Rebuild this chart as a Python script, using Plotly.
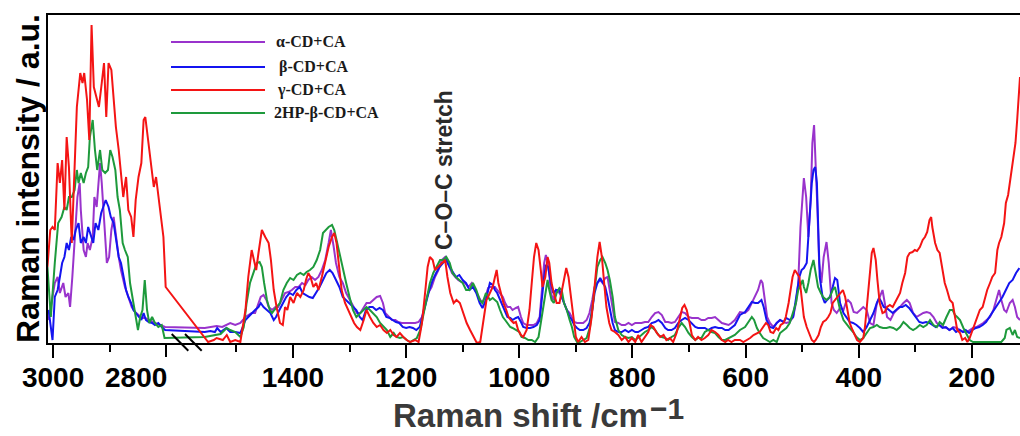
import plotly.graph_objects as go

# ---------------- data (Raman shift in cm-1, intensity in a.u.) ----------------
ALPHA_X = [3008,2997,2992,2988,2982,2978,2973,2970,2966,2961,2957,2953,2951,2946,2942,2939,2935,2930,2927,2923,2920,2917,2914,2911,2908,2905,2901,2897,2893,2889,2884,2880,2873,2867,2861,2855,2849,2843,2837,2831,2825,2820,2811,2802,
           1556,1545,1535,1525,1518,
           1511,1502,1493,1484,1479,1473,1467,1461,1457,1452,1447,1443,1437,1431,1426,1420,1414,1408,1402,1396,1390,1384,1378,1373,1367,1361,1355,1349,1343,1337,1333,1328,1324,1318,1312,1306,1299,1293,1287,1281,1275,1270,1264,1258,1252,1246,1241,1237,1231,1225,1219,1214,1208,1202,1196,1190,1184,1178,1172,1166,1161,1155,1149,1143,1137,1131,1125,1119,1113,1108,1102,1096,1090,1084,1078,1072,1066,1060,1055,
           1052,1047,1043,1039,1034,1029,1025,1021,1016,1012,1006,1002,997,993,987,981,975,969,964,960,956,953,949,944,940,935,929,925,921,916,911,907,903,898,893,887,881,876,871,867,862,857,853,848,844,840,835,831,825,819,813,807,801,795,790,784,778,772,766,760,754,748,742,737,731,725,719,713,707,701,695,689,684,678,672,666,660,654,648,642,636,630,625,619,
           610,601,595,589,583,578,573,570,566,562,557,551,545,539,533,528,522,516,511,507,503,499,497,493,489,485,482,479,477,473,470,466,462,457,453,448,444,439,433,427,423,419,414,409,403,397,392,386,380,374,368,363,358,354,350,344,338,333,327,321,315,310,304,298,292,286,280,274,268,262,257,251,245,239,233,227,221,215,209,204,198,192,186,180,174,168,162,156,152,148,143,139,133,128,124,120,115]
ALPHA_Y = [23,60,66,50,60,46,50,36,66,106,146,160,133,93,86,100,93,106,146,136,160,180,160,133,100,80,86,113,126,106,86,73,56,46,36,31,28,25,25,23,21,20,18,16,
           15,16,17,16,18,
           20,18,20,26,28,30,30,40,46,48,43,36,33,36,36,43,50,51,53,56,56,60,58,63,66,63,66,73,83,100,113,96,80,66,60,50,43,36,30,30,36,40,40,43,46,47,40,30,26,23,23,21,20,20,20,20,20,21,26,40,50,56,66,73,83,86,78,70,66,63,61,60,56,60,53,46,40,46,55,
           56,56,56,53,50,46,40,36,36,33,35,36,26,20,18,18,18,20,26,53,80,88,80,50,43,53,50,46,40,33,30,26,21,20,20,20,23,30,43,56,60,63,60,65,66,53,33,21,20,18,18,20,18,20,20,20,21,21,26,30,31,28,21,21,20,21,26,31,30,26,25,25,25,23,23,25,25,26,23,20,19,18,20,23,
           31,30,33,40,46,53,63,60,43,26,20,16,20,23,21,20,21,26,40,60,116,153,165,146,106,143,200,218,193,133,80,60,86,101,80,40,33,30,35,33,40,43,40,31,30,33,36,33,20,18,40,46,53,40,26,23,30,33,36,40,43,40,30,26,28,30,31,30,26,20,18,16,15,13,16,15,13,11,11,13,15,16,18,20,23,26,33,46,53,43,33,31,40,43,36,26,23]

BETA_X = [3008,3001,2997,2992,2988,2984,2980,2976,2972,2968,2964,2960,2955,2951,2946,2942,2938,2933,2929,2925,2920,2915,2911,2907,2902,2898,2893,2889,2884,2880,2876,2871,2867,2862,2858,2854,2849,2844,2840,2836,2831,2825,2820,2814,2808,2802,
          1556,1546,1538,1534,1528,1518,
          1511,1502,1493,1484,1479,1473,1467,1461,1457,1452,1446,1440,1434,1430,1424,1418,1412,1406,1400,1394,1388,1383,1377,1371,1365,1359,1353,1347,1341,1335,1330,1324,1318,1312,1306,1300,1294,1288,1282,1277,1271,1265,1259,1253,1247,1241,1235,1229,1224,1218,1212,1206,1200,1194,1188,1182,1176,1171,1165,1159,1153,1147,1141,1135,1129,1123,1118,1112,1106,1100,1094,1088,1082,1076,1070,1065,1059,
          1052,1047,1043,1039,1034,1029,1025,1021,1016,1012,1006,1002,997,993,987,981,975,969,964,960,956,953,949,944,940,935,929,925,921,916,911,907,903,898,893,887,881,876,871,867,862,857,853,848,844,840,835,831,825,819,813,807,801,795,790,784,778,772,766,760,754,748,742,737,731,725,719,713,707,701,695,689,684,678,672,666,660,654,648,642,636,630,625,619,
          610,601,595,589,583,578,572,568,563,557,551,545,539,533,528,522,516,510,505,501,497,492,487,483,480,477,474,472,469,464,460,456,451,446,442,438,433,427,421,416,410,404,398,392,386,380,374,368,364,360,356,351,346,340,334,328,323,317,311,305,299,293,287,281,275,270,264,258,252,246,240,234,228,222,216,211,205,199,193,187,181,175,169,164,158,152,146,140,134,128,122,116]
BETA_Y = [33,3,46,53,66,80,86,100,93,106,103,113,120,100,106,100,116,106,100,120,113,130,136,143,136,126,120,106,86,80,66,53,46,40,33,30,26,23,30,23,21,20,18,20,16,13,
          11,12,11,15,11,15,
          11,11,10,23,26,30,33,36,40,36,33,30,23,26,33,40,46,50,48,53,56,50,48,46,45,50,56,63,70,73,70,63,56,46,43,40,36,33,26,23,33,36,36,33,35,33,26,25,23,21,20,16,15,16,15,13,16,26,40,53,63,70,76,80,83,76,71,66,68,63,60,53,56,50,40,35,43,
          60,58,53,50,43,36,30,26,25,23,25,26,21,16,15,15,16,18,23,46,66,78,76,60,50,53,53,46,40,33,26,23,18,15,13,13,15,20,33,50,60,65,61,56,46,33,20,13,11,11,13,11,13,11,11,13,15,16,20,21,23,20,15,13,13,15,20,23,25,23,20,16,15,15,15,13,15,16,15,15,13,13,15,18,
          28,31,36,41,40,40,43,36,23,16,15,20,23,21,25,23,26,46,66,73,75,80,120,160,173,176,160,113,66,46,40,43,46,56,65,63,40,30,25,21,20,18,15,11,16,23,30,40,45,41,36,35,33,30,33,36,36,38,35,30,26,21,20,21,20,18,16,18,15,16,13,15,11,13,11,13,10,13,15,16,18,21,26,31,36,40,46,53,60,63,70,75]

GAMMA_X = [3010,3005,3001,2997,2992,2988,2984,2980,2976,2972,2967,2962,2958,2952,2948,2945,2940,2936,2932,2928,2923,2919,2914,2910,2906,2902,2897,2893,2889,2884,2880,2876,2871,2867,2862,2858,2854,2849,2844,2840,2837,2831,2827,2822,2818,2814,2809,2805,2801,
           1550,1540,1535,1524,1517,
           1511,1502,1493,1484,1479,1473,1469,1465,1461,1455,1449,1443,1439,1434,1429,1423,1418,1414,1410,1405,1399,1393,1387,1381,1377,1373,1369,1364,1359,1355,1349,1343,1337,1331,1327,1323,1318,1314,1308,1302,1296,1292,1287,1281,1275,1270,1264,1258,1252,1246,1240,1234,1228,1222,1217,1211,1205,1199,1193,1184,1178,1172,1166,1162,1158,1153,1149,1143,1137,1131,1127,1122,1116,1111,1105,1099,1093,1087,1081,1075,1069,1063,1058,
           1052,1047,1043,1040,1037,1033,1028,1023,1019,1015,1010,1006,1002,997,993,987,982,978,974,970,966,962,959,954,950,947,943,939,934,929,925,921,917,913,909,904,900,896,890,884,878,872,866,862,858,854,850,846,841,837,831,825,819,813,807,801,795,790,784,778,772,768,763,757,751,745,740,734,728,722,717,712,708,704,699,695,689,684,678,672,666,660,654,648,642,636,631,625,619,
           610,604,598,592,586,580,575,569,564,560,556,551,546,542,538,533,529,524,520,517,513,509,505,501,497,492,487,483,479,476,471,467,463,458,454,450,446,442,438,433,428,424,420,416,411,407,403,398,392,389,385,381,377,374,370,367,363,358,354,350,345,340,336,332,327,323,318,314,310,305,301,297,292,287,283,279,275,272,270,265,261,257,252,248,244,239,234,230,226,221,217,212,208,204,199,195,191,186,181,177,173,168,164,159,155,152,148,143,140,136,132,127,123,120,118,115]
GAMMA_Y = [76,113,116,113,180,160,183,133,206,176,100,176,236,270,260,270,243,203,318,256,246,236,260,280,226,280,273,243,216,193,166,146,166,133,126,106,143,166,180,223,226,200,180,156,166,146,120,106,56,
           1,3,5,3,8,
           1,3,1,33,66,93,83,73,90,113,106,100,83,53,36,20,18,36,33,46,40,50,46,53,63,70,66,56,60,53,66,80,96,106,110,100,76,53,40,33,26,20,16,13,23,33,26,20,16,18,13,10,13,8,6,10,6,3,1,3,1,20,53,76,86,83,73,76,80,83,66,50,40,43,40,30,20,13,6,0,1,26,43,
           50,56,66,73,60,50,40,33,26,23,20,21,13,8,6,13,33,60,86,100,93,73,56,66,86,80,60,50,40,40,53,66,75,66,46,20,6,1,6,1,3,26,66,86,101,86,60,36,20,13,11,8,3,6,1,5,1,8,1,6,11,18,16,10,6,8,3,5,1,10,23,35,38,33,20,8,3,6,3,5,8,13,11,8,3,1,3,1,3,
           3,1,3,5,8,10,11,16,20,18,11,10,15,13,18,20,26,40,53,66,73,70,66,46,26,16,8,3,1,3,8,16,21,23,26,30,40,43,46,50,53,46,33,20,13,8,3,1,5,16,40,66,90,95,83,63,40,30,31,36,38,36,40,45,50,60,70,86,90,91,93,92,96,103,106,111,123,126,116,100,93,90,73,60,53,43,40,26,13,10,3,5,1,5,13,20,25,33,36,46,53,60,66,70,93,100,106,120,140,148,163,180,200,223,246,266]

HP_X = [3010,3004,2997,2991,2985,2980,2976,2972,2967,2962,2958,2955,2951,2946,2942,2938,2935,2930,2926,2922,2917,2913,2908,2903,2899,2895,2890,2886,2882,2877,2873,2868,2864,2860,2855,2850,2846,2842,2838,2834,2830,2825,2820,2814,2808,2803,
        1556,1540,1528,1517,
        1511,1502,1493,1487,1482,1476,1470,1464,1459,1455,1451,1446,1441,1437,1433,1429,1423,1417,1411,1405,1399,1393,1387,1381,1376,1370,1364,1358,1352,1347,1341,1337,1331,1327,1323,1318,1312,1306,1300,1294,1288,1281,1275,1270,1264,1258,1252,1246,1240,1234,1228,1222,1217,1211,1205,1199,1193,1187,1181,1175,1169,1164,1158,1152,1146,1140,1134,1129,1123,1118,1112,1106,1100,1094,1088,1082,1076,1070,1065,1059,
        1052,1047,1043,1039,1034,1029,1025,1021,1016,1012,1006,1000,996,990,984,978,972,966,962,958,954,950,947,943,939,934,929,925,921,916,911,907,903,898,893,887,881,875,870,866,862,857,853,848,844,840,835,831,825,819,813,807,801,795,790,784,778,772,766,760,754,748,742,737,731,725,719,713,707,701,695,689,684,678,672,666,660,654,648,642,636,630,625,619,
        610,601,595,589,585,580,575,569,563,557,551,545,539,533,528,522,516,511,507,503,499,497,493,489,485,480,476,472,467,463,457,451,446,442,438,433,427,421,416,410,404,398,392,386,380,374,368,363,357,351,345,339,333,327,321,315,310,304,298,292,286,280,274,268,262,257,251,245,239,234,230,226,221,215,209,204,198,189,180,168,156,148,142,139,133,128,124,120,115]
HP_Y = [76,26,80,120,126,136,133,146,146,153,173,160,170,160,170,176,206,223,193,173,193,173,170,173,193,186,173,146,133,100,93,86,60,46,33,13,26,33,63,33,20,26,20,16,18,5,
        6,8,9,15,
        13,11,6,16,40,60,70,80,81,76,60,43,33,30,33,36,40,53,60,65,63,68,70,68,71,73,76,83,93,110,113,116,118,113,103,90,73,60,46,33,26,30,33,36,33,30,26,20,16,13,6,10,6,5,6,3,1,3,5,13,30,46,60,70,76,83,83,86,80,70,66,63,60,53,53,60,53,43,40,50,
        43,45,43,41,33,26,23,20,16,15,13,11,6,5,3,3,1,6,20,36,50,63,53,43,40,50,55,53,40,33,23,16,6,1,1,3,5,16,40,63,76,83,86,80,73,63,46,26,13,8,6,5,6,3,5,8,11,13,16,13,8,6,5,3,6,8,15,20,16,10,6,3,5,5,11,13,11,10,6,3,3,5,6,8,
        13,16,21,26,23,15,10,5,3,1,3,1,10,13,15,20,30,40,53,58,63,56,50,60,73,83,70,56,50,46,43,46,53,56,46,33,23,18,15,11,6,3,5,10,15,16,18,16,15,15,16,15,13,16,21,18,15,13,15,18,16,18,23,18,16,21,18,26,33,33,28,26,23,15,8,3,1,1,1,1,1,1,5,13,15,8,13,6,5]

SERIES_NAMES = ["α-CD+CA", "β-CD+CA", "γ-CD+CA", "2HP-β-CD+CA"]
SERIES_COLORS = ["#9933CC", "#1414F0", "#F41414", "#1E9A3C"]
LABELED_TICKS = [3000, 1400, 1200, 1000, 800, 600, 400, 200]
OFFSET_LABEL_TICK = 2800      # its label sits left of the tick in the original
MINOR_TICKS = [2900, 1500, 1300, 1100, 900, 700, 500, 300]
BREAK_SHIFT = 1176            # gap removed from the axis between ~2780 and ~1600 cm-1
X_RANGE = [3009, 115]
Y_RANGE = [0, 328]


def to_axis(w):
    """Broken-axis coordinate: the high-wavenumber block is shifted next to the fingerprint block."""
    return w - BREAK_SHIFT if w > 2000 else w


xs = [ALPHA_X, BETA_X, GAMMA_X, HP_X]
ys = [ALPHA_Y, BETA_Y, GAMMA_Y, HP_Y]

fig = go.Figure()
for idx in [0, 1, 3, 2]:  # red drawn on top
    fig.add_trace(go.Scatter(
        x=[to_axis(v) for v in xs[idx]], y=ys[idx], mode="lines",
        line=dict(color=SERIES_COLORS[idx], width=2), name=SERIES_NAMES[idx],
        showlegend=False, hoverinfo="skip"))

W, H = 1020, 436
ML, MR, MT, MB = 48, 0, 15, 93
PW, PH = W - ML - MR, H - MT - MB


def px(p):
    return (p - ML) / PW


def py(p):
    return (H - MB - p) / PH


TICK_FONT = dict(family="Liberation Sans, Arial", size=28, color="black", weight="bold")
TITLE_FONT = dict(family="Liberation Sans, Arial", size=33, color="#3a3a3a", weight="bold")
xr = [to_axis(X_RANGE[0]), to_axis(X_RANGE[1])]
fig.update_layout(
    xaxis=dict(
        range=xr,
        tickmode="array", tickvals=[to_axis(t) for t in LABELED_TICKS],
        ticktext=[str(t) for t in LABELED_TICKS],
        ticks="outside", ticklen=13, tickwidth=2, tickcolor="black",
        ticklabelstandoff=-5,
        minor=dict(tickmode="array", tickvals=[to_axis(t) for t in MINOR_TICKS],
                   ticks="outside", ticklen=7, tickwidth=2, tickcolor="black", showgrid=False),
        showline=True, linewidth=2, linecolor="black", mirror=True,
        showgrid=False, zeroline=False, tickfont=TICK_FONT,
    ),
    xaxis2=dict(
        range=xr, overlaying="x", side="bottom", anchor="y",
        tickmode="array", tickvals=[to_axis(OFFSET_LABEL_TICK)],
        ticks="outside", ticklen=13, tickwidth=2, tickcolor="black",
        showticklabels=False, showline=False, showgrid=False, zeroline=False,
    ),
    yaxis=dict(range=Y_RANGE, showline=True, linewidth=2, linecolor="black",
               mirror=False, showgrid=False, zeroline=False, ticks="",
               showticklabels=False),
)
# invisible trace so the overlay axis is drawn
fig.add_trace(go.Scatter(x=[xr[0]], y=[None], xaxis="x2", yaxis="y", mode="lines",
                         showlegend=False, hoverinfo="skip"))

annotations = [
    dict(text=str(OFFSET_LABEL_TICK), x=px(136), y=py(377), xref="paper", yref="paper",
         showarrow=False, xanchor="center", yanchor="middle", font=TICK_FONT),
    dict(text="Raman shift /cm", x=px(391), y=py(436), xref="paper", yref="paper",
         showarrow=False, xanchor="left", yanchor="bottom", font=TITLE_FONT),
    dict(text="−1", x=px(648), y=py(408), xref="paper", yref="paper",
         showarrow=False, xanchor="left", yanchor="middle",
         font=dict(family="Liberation Sans, Arial", size=30, color="#3a3a3a", weight="bold")),
    dict(text="Raman intensity / a.u.", x=px(28), y=py(179), xref="paper", yref="paper",
         showarrow=False, textangle=-90, xanchor="center", yanchor="middle",
         font=dict(family="Liberation Sans, Arial", size=32, color="black", weight="bold")),
    dict(text="C–O–C stretch", x=px(444), y=py(170), xref="paper", yref="paper",
         showarrow=False, textangle=-90, xanchor="center", yanchor="middle",
         bgcolor="white",
         font=dict(family="Liberation Sans, Arial", size=23, color="#2a2a2a", weight="bold")),
]

shapes = []
legend_rows = [42, 67, 90, 113]
legend_text_x = [274, 277, 275, 272]
for i, name in enumerate(SERIES_NAMES):
    shapes.append(dict(type="line", xref="paper", yref="paper",
                       x0=px(171), x1=px(265), y0=py(legend_rows[i]), y1=py(legend_rows[i]),
                       line=dict(color=SERIES_COLORS[i], width=2)))
    annotations.append(dict(text=name, x=px(legend_text_x[i]), y=py(legend_rows[i]),
                            xref="paper", yref="paper", showarrow=False,
                            xanchor="left", yanchor="middle",
                            font=dict(family="Liberation Serif, Times New Roman", size=16,
                                      color="#1a1a1a", weight="bold")))

# axis-break marks
for x0, x1 in [(171.7, 188.3), (185.0, 201.7)]:
    shapes.append(dict(type="line", xref="paper", yref="paper",
                       x0=px(x0), x1=px(x1), y0=py(334), y1=py(350.7),
                       line=dict(color="black", width=2)))

fig.update_layout(
    width=W, height=H, margin=dict(l=ML, r=MR, t=MT, b=MB),
    paper_bgcolor="white", plot_bgcolor="white",
    showlegend=False, annotations=annotations, shapes=shapes,
)

fig.write_html("out.html", config={"displayModeBar": False},
               post_script="document.body.style.margin='0';document.body.style.overflow='hidden';")
